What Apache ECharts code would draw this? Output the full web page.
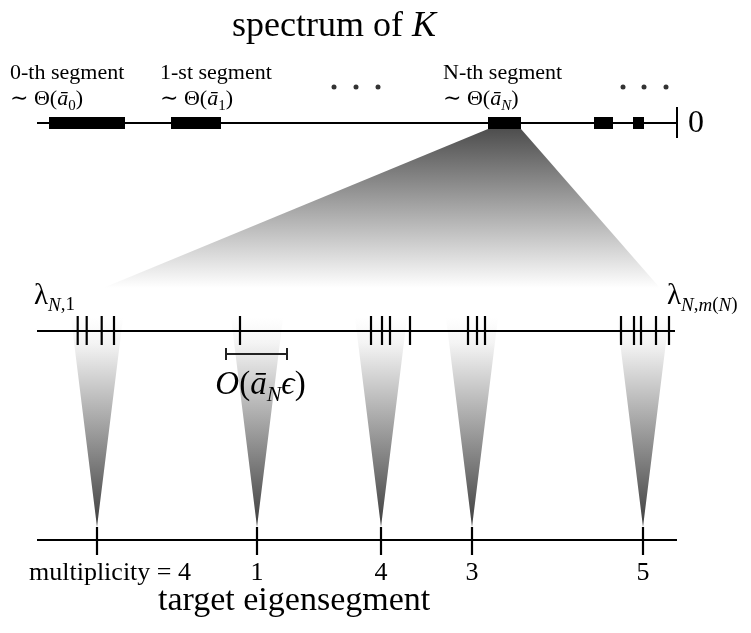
<!DOCTYPE html>
<html>
<head>
<meta charset="utf-8">
<script src="https://cdn.jsdelivr.net/npm/echarts@6/dist/echarts.min.js"></script>
<style>
  html, body { margin: 0; padding: 0; background: #fff; }
  #main { width: 751px; height: 633px; }
</style>
</head>
<body>
<div id="main"></div>
<script>
// ---------- spectrum of K (0 sits at the right end of the axis) ----------
const spectrumRange = [-64, 0];
const segmentStart = [-62.8, -50.6, -18.9, -8.3, -4.4];
const segmentEnd   = [-55.2, -45.6, -15.6, -6.4, -3.3];
const segmentNames = ['0-th segment', '1-st segment', 'N-th segment'];
const segmentIndexLabels = ['0', '1', 'N'];
const segmentLabelAt = [-66.7, -51.7, -23.4];
const ellipsisDots = [-34.3, -32.1, -29.9, -5.4, -3.3, -1.1];
const zoomedSegment = 2;

// ---------- eigenvalues inside the N-th segment (magnified scale) ----------
const magnifiedRange = [0, 64];
const eigenvalues  = [4.07, 4.97, 6.47, 7.7, 20.3, 33.4, 34.5, 35.3, 37.3, 43.1, 44.0, 44.8, 58.4, 59.7, 60.4, 61.9, 63.2];
const eigenCluster = [0, 0, 0, 0, 1, 2, 2, 2, 2, 3, 3, 3, 4, 4, 4, 4, 4];
const epsilonBar = [18.9, 25.0];
const magnifierFoot = [6.6, 62.3];

// ---------- target eigensegment ----------
const targetRange = [0, 64];
const targets      = [6.0, 22.0, 34.4, 43.5, 60.6];
const multiplicity = [4, 1, 4, 3, 5];

// ---------- layout ----------
const ROW = { spectrum: 123, eigen: 331, target: 540, dots: 87, magnifierBottom: 288, coneTop: 318 };
const SERIF = '"Liberation Serif", "DejaVu Serif", serif';
const INK = '#000';

function mathRich(fs, sfs) {
  const base = { fontFamily: SERIF, fontWeight: 'normal', color: INK };
  return {
    r:  Object.assign({ fontSize: fs, lineHeight: Math.round(fs * 1.3), verticalAlign: 'middle' }, base),
    i:  Object.assign({ fontStyle: 'italic', fontSize: fs, lineHeight: Math.round(fs * 1.3), verticalAlign: 'middle' }, base),
    s:  Object.assign({ fontStyle: 'italic', fontSize: sfs, lineHeight: sfs, verticalAlign: 'bottom' }, base),
    sr: Object.assign({ fontSize: sfs, lineHeight: sfs, verticalAlign: 'bottom' }, base)
  };
}

function fadeDown(dark) {
  return { type: 'linear', x: 0, y: 0, x2: 0, y2: 1,
           colorStops: [{ offset: 0, color: dark }, { offset: 1, color: '#ffffff' }] };
}
function fadeUp(dark) {
  return { type: 'linear', x: 0, y: 0, x2: 0, y2: 1,
           colorStops: [{ offset: 0, color: '#ffffff' }, { offset: 0.12, color: '#f4f4f4' }, { offset: 1, color: dark }] };
}

const chart = echarts.init(document.getElementById('main'), null, { renderer: 'canvas' });

const hiddenX = (range) => ({ type: 'value', min: range[0], max: range[1], show: false, gridIndex: 0 });

const option = {
  animation: false,
  backgroundColor: '#fff',
  title: [
    { text: '{r|spectrum of }{i|K}', left: 227, top: -2,
      textStyle: { fontWeight: 'normal', rich: mathRich(36, 20) } },
    { text: '{r|target eigensegment}', left: 153, top: 574,
      textStyle: { fontWeight: 'normal', rich: mathRich(34, 20) } }
  ],
  grid: { left: 37, right: 74, top: 0, bottom: 0 },
  xAxis: [hiddenX(spectrumRange), hiddenX(magnifiedRange), hiddenX(targetRange)],
  yAxis: { type: 'value', min: 0, max: 633, inverse: true, show: false },
  series: [
    // spectrum axis line, end tick and the 0 label
    {
      type: 'custom', xAxisIndex: 0, silent: true, z: 3,
      data: [spectrumRange],
      renderItem(params, api) {
        const a = api.coord([api.value(0), ROW.spectrum]);
        const b = api.coord([api.value(1), ROW.spectrum]);
        return { type: 'group', children: [
          { type: 'line', shape: { x1: a[0], y1: a[1], x2: b[0], y2: b[1] }, style: { stroke: INK, lineWidth: 2 } },
          { type: 'line', shape: { x1: b[0], y1: b[1] - 16, x2: b[0], y2: b[1] + 15 }, style: { stroke: INK, lineWidth: 2 } },
          { type: 'text', style: { text: '0', x: b[0] + 11, y: b[1] + 1, fontFamily: SERIF, fontSize: 32, fill: INK,
                                   align: 'left', verticalAlign: 'middle' } }
        ] };
      }
    },
    // spectral segments with their labels
    {
      type: 'custom', xAxisIndex: 0, silent: true, z: 4,
      data: segmentStart.map((s, i) => [s, segmentEnd[i]]),
      renderItem(params, api) {
        const i = params.dataIndex;
        const a = api.coord([api.value(0), ROW.spectrum]);
        const b = api.coord([api.value(1), ROW.spectrum]);
        const children = [
          { type: 'rect', shape: { x: a[0], y: a[1] - 6, width: b[0] - a[0], height: 12 }, style: { fill: INK } }
        ];
        if (i < segmentNames.length) {
          const lx = api.coord([segmentLabelAt[i], ROW.spectrum])[0];
          children.push({ type: 'text', style: { text: segmentNames[i], x: lx, y: 73, fontFamily: SERIF, fontSize: 22,
                                                 fill: INK, align: 'left', verticalAlign: 'middle' } });
          children.push({ type: 'text', style: {
            text: '{r|∼ Θ(}{i|ā}{' + (segmentIndexLabels[i] === 'N' ? 's' : 'sr') + '|' + segmentIndexLabels[i] + '}{r|)}',
            rich: mathRich(22, 15), x: lx, y: 99, align: 'left', verticalAlign: 'middle' } });
        }
        return { type: 'group', children };
      }
    },
    // ellipsis dots between segments
    {
      type: 'scatter', xAxisIndex: 0, silent: true, z: 4,
      symbol: 'circle', symbolSize: 5, itemStyle: { color: INK },
      data: ellipsisDots.map(v => [v, ROW.dots])
    },
    // magnified segment: axis line and end labels
    {
      type: 'custom', xAxisIndex: 1, silent: true, z: 3,
      data: [[magnifiedRange[0], 63.8]],
      renderItem(params, api) {
        const a = api.coord([api.value(0), ROW.eigen]);
        const b = api.coord([api.value(1), ROW.eigen]);
        return { type: 'group', children: [
          { type: 'line', shape: { x1: a[0], y1: a[1], x2: b[0], y2: b[1] }, style: { stroke: INK, lineWidth: 2 } },
          { type: 'text', style: { text: '{r|λ}{s|N}{sr|,1}', rich: mathRich(29, 19), x: a[0] - 3, y: ROW.eigen - 35,
                                   align: 'left', verticalAlign: 'middle' } },
          { type: 'text', style: { text: '{r|λ}{s|N}{sr|,}{s|m}{sr|(}{s|N}{sr|)}', rich: mathRich(29, 19), x: b[0] - 8,
                                   y: ROW.eigen - 35, align: 'left', verticalAlign: 'middle' } }
        ] };
      }
    },
    // eigenvalue ticks
    {
      type: 'custom', xAxisIndex: 1, silent: true, z: 5,
      data: eigenvalues.map((v, i) => [v, eigenCluster[i]]),
      renderItem(params, api) {
        const p = api.coord([api.value(0), ROW.eigen]);
        return { type: 'line', shape: { x1: p[0], y1: p[1] - 15, x2: p[0], y2: p[1] + 14 }, style: { stroke: INK, lineWidth: 2.2 } };
      }
    },
    // O(ā_N ϵ) scale bar
    {
      type: 'custom', xAxisIndex: 1, silent: true, z: 5,
      data: [epsilonBar],
      renderItem(params, api) {
        const a = api.coord([api.value(0), ROW.eigen + 23]);
        const b = api.coord([api.value(1), ROW.eigen + 23]);
        const st = { stroke: '#222', lineWidth: 2 };
        return { type: 'group', children: [
          { type: 'line', shape: { x1: a[0], y1: a[1], x2: b[0], y2: b[1] }, style: st },
          { type: 'line', shape: { x1: a[0], y1: a[1] - 6, x2: a[0], y2: a[1] + 6 }, style: st },
          { type: 'line', shape: { x1: b[0], y1: b[1] - 6, x2: b[0], y2: b[1] + 6 }, style: st },
          { type: 'text', style: { text: '{i|O}{r|(}{i|ā}{s|N}{i|ϵ}{r|)}', rich: mathRich(33, 22),
                                   x: (a[0] + b[0]) / 2 + 4, y: ROW.eigen + 54, align: 'center', verticalAlign: 'middle' } }
        ] };
      }
    },
    // cones from each eigenvalue cluster to its target
    {
      type: 'custom', xAxisIndex: 2, silent: true, z: 1,
      data: targets.map((t, i) => [t, multiplicity[i]]),
      renderItem(params, api) {
        const t = api.value(0);
        const l = api.coord([t - 2.6, ROW.coneTop]);
        const r = api.coord([t + 2.6, ROW.coneTop]);
        const tip = api.coord([t, ROW.target - 13]);
        return { type: 'polygon', shape: { points: [l, r, tip] }, style: { fill: fadeUp('#3e3e3e') } };
      }
    },
    // target axis line
    {
      type: 'custom', xAxisIndex: 2, silent: true, z: 3,
      data: [targetRange],
      renderItem(params, api) {
        const a = api.coord([api.value(0), ROW.target]);
        const b = api.coord([api.value(1), ROW.target]);
        return { type: 'line', shape: { x1: a[0], y1: a[1], x2: b[0], y2: b[1] }, style: { stroke: INK, lineWidth: 2 } };
      }
    },
    // target ticks and multiplicity labels
    {
      type: 'custom', xAxisIndex: 2, silent: true, z: 5,
      data: targets.map((t, i) => [t, multiplicity[i]]),
      renderItem(params, api) {
        const i = params.dataIndex;
        const p = api.coord([api.value(0), ROW.target]);
        const m = api.value(1);
        const label = i === 0 ? 'multiplicity = ' + m : String(m);
        return { type: 'group', children: [
          { type: 'line', shape: { x1: p[0], y1: p[1] - 13, x2: p[0], y2: p[1] + 15 }, style: { stroke: INK, lineWidth: 2.2 } },
          { type: 'text', style: { text: label, x: p[0] + (i === 0 ? 13 : 0), y: ROW.target + 33, fontFamily: SERIF,
                                   fontSize: 26, fill: INK, align: 'center', verticalAlign: 'middle' } }
        ] };
      }
    }
  ]
};

chart.setOption(option);

// magnifier: from the N-th segment down to the magnified axis
const topL = chart.convertToPixel({ xAxisIndex: 0, yAxisIndex: 0 }, [segmentStart[zoomedSegment], ROW.spectrum + 6]);
const topR = chart.convertToPixel({ xAxisIndex: 0, yAxisIndex: 0 }, [segmentEnd[zoomedSegment], ROW.spectrum + 6]);
const footL = chart.convertToPixel({ xAxisIndex: 1, yAxisIndex: 0 }, [magnifierFoot[0], ROW.magnifierBottom]);
const footR = chart.convertToPixel({ xAxisIndex: 1, yAxisIndex: 0 }, [magnifierFoot[1], ROW.magnifierBottom]);

chart.setOption({
  graphic: [{
    type: 'polygon', z: 0, silent: true,
    shape: { points: [topL, topR, footR, footL] },
    style: { fill: fadeDown('#4e4e4e') }
  }]
});
</script>
</body>
</html>
